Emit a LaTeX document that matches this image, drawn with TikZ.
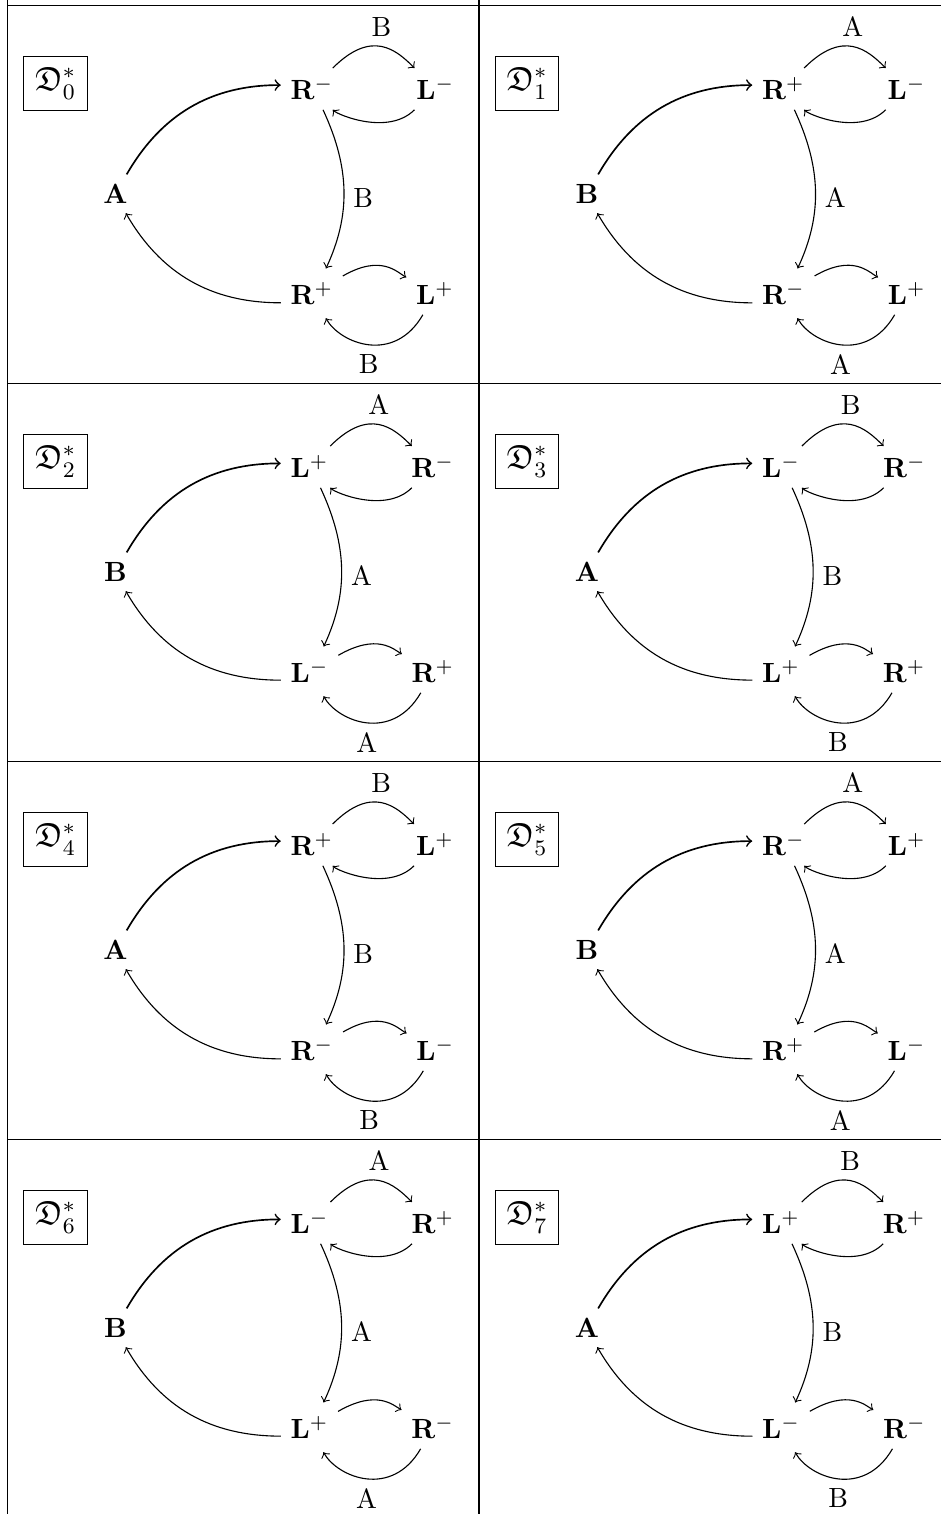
\documentclass[tikz,border=0pt]{standalone}
\usepackage{amssymb}
\usetikzlibrary{calc}
\tikzset{
  gnode/.style={inner sep=3.33pt},
  arr/.style={->, line width=0.4pt},
  arrthick/.style={->, line width=0.6pt},
  frame/.style={line width=0.4pt},
  tag/.style={draw, line width=0.4pt, inner sep=4pt, font=\large},
}
\newcommand\drawpanel[9]{%
  \begin{scope}[shift={(#1,#2)}, name prefix=p#3-]
    \node[tag] (tag) at (48,-78) {$\mathfrak{D}^*_{#3}$};
    \node[gnode, anchor=base] (left) at (108,-197.8) {$\mathbf{#4}$};
    \node[gnode, anchor=base west] (mt) at (273.25,-94.5) {$\mathbf{#5}$};
    \node[gnode, anchor=base west] (rt) at ($(mt.base east)+(63.5,0)$) {$\mathbf{#6}$};
    \node[gnode, anchor=base west] (mb) at (273.25,-299.5) {$\mathbf{#7}$};
    \node[gnode, anchor=base west] (rb) at ($(mb.base east)+(63.5,0)$) {$\mathbf{#8}$};
    \draw[arrthick] (left.60) to[out=60,in=180] (mt.173);
    \draw[arr] (mb.-164) to[out=180,in=-60] (left.-62);
    \draw[arr, shorten >=1.8pt] (mt.-62) to[out=-65,in=65] node[right,pos=0.54] (lm) {#9} (mb.60);
    \draw[arr] (mt) to[out=45,in=135,looseness=1.35] node[above] (lt) {#9} (rt);
    \draw[arr] (rt) to[out=-135,in=-45,looseness=0.9] (mt);
    \draw[arr] (mb) to[out=30,in=150,looseness=1.2] (rb);
    \draw[arr, shorten >=1.4pt] (rb) to[out=-120,in=-60,looseness=1.3] node[below] (lb) {#9} (mb);
  \end{scope}}
\begin{document}
\begin{tikzpicture}[x=0.36pt,y=0.36pt]
  \useasboundingbox (0,0) rectangle (941,1514);
  % table rules
  \draw[frame] (7.5,1514) -- (7.5,1508.5) -- (941,1508.5);
  \draw[frame] (479,1514) -- (479,1508.5);
  \draw[frame] (7.5,1508.5) -- (7.5,0);
  \draw[frame] (479,1508.5) -- (479,0);
  \draw[frame] (7.5,1130.5) -- (941,1130.5);
  \draw[frame] (7.5,752.5) -- (941,752.5);
  \draw[frame] (7.5,374.5) -- (941,374.5);
  % panels
  \drawpanel{7.5}{1508.5}{0}{A}{R^-}{L^-}{R^+}{L^+}{B}
  \drawpanel{479}{1508.5}{1}{B}{R^+}{L^-}{R^-}{L^+}{A}
  \drawpanel{7.5}{1130.5}{2}{B}{L^+}{R^-}{L^-}{R^+}{A}
  \drawpanel{479}{1130.5}{3}{A}{L^-}{R^-}{L^+}{R^+}{B}
  \drawpanel{7.5}{752.5}{4}{A}{R^+}{L^+}{R^-}{L^-}{B}
  \drawpanel{479}{752.5}{5}{B}{R^-}{L^+}{R^+}{L^-}{A}
  \drawpanel{7.5}{374.5}{6}{B}{L^-}{R^+}{L^+}{R^-}{A}
  \drawpanel{479}{374.5}{7}{A}{L^+}{R^+}{L^-}{R^-}{B}
\end{tikzpicture}
\end{document}
